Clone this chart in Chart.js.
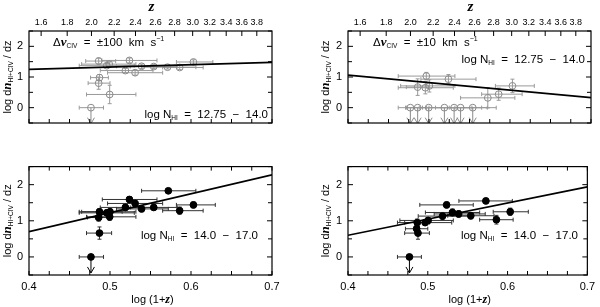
<!DOCTYPE html>
<html>
<head>
<meta charset="utf-8">
<script src="https://cdn.jsdelivr.net/npm/chart.js@4.4.1/dist/chart.umd.min.js"></script>
<style>
  body { margin: 0; background: #fff; width: 600px; height: 307px; overflow: hidden; position: relative; }
  canvas { position: absolute; }
</style>
</head>
<body>
<canvas id="tl" width="300" height="157" style="left:0;top:0"></canvas>
<canvas id="tr" width="300" height="157" style="left:300px;top:0"></canvas>
<canvas id="bl" width="300" height="153" style="left:0;top:154px"></canvas>
<canvas id="br" width="300" height="153" style="left:300px;top:154px"></canvas>
<script>
// axis ticks
const zTickLabels = [1.6, 1.8, 2.0, 2.2, 2.4, 2.6, 2.8, 3.0, 3.2, 3.4, 3.6, 3.8];
const xTickVals = [0.4, 0.5, 0.6, 0.7];
const xMinorVals = [0.4, 0.425, 0.45, 0.475, 0.5, 0.525, 0.55, 0.575, 0.6, 0.625, 0.65, 0.675, 0.7];
const yTickVals = [0, 1, 2];
const yMinorVals = [-0.5, 0, 0.5, 1, 1.5, 2, 2.5];

// top left: dv = +-100 km/s, log NHI 12.75-14.0
const tlX   = [0.486, 0.524, 0.603, 0.496, 0.499, 0.539, 0.554, 0.571, 0.586, 0.519, 0.531, 0.487, 0.486, 0.4996];
const tlY   = [1.52, 1.54, 1.49, 1.37, 1.42, 1.35, 1.34, 1.32, 1.31, 1.21, 1.14, 0.98, 0.80, 0.43];
const tlLo  = [0.470, 0.490, 0.582, 0.462, 0.465, 0.508, 0.525, 0.539, 0.565, 0.488, 0.497, 0.476, 0.473, 0.471];
const tlHi  = [0.507, 0.558, 0.627, 0.530, 0.532, 0.572, 0.583, 0.606, 0.615, 0.553, 0.565, 0.498, 0.500, 0.532];
const tlErr = [0.10, 0.08, 0.07, 0.07, 0.07, 0.07, 0.06, 0.06, 0.07, 0.07, 0.08, 0.10, 0.20, 0.30];
const tlLimX = [0.4765], tlLimLo = [0.462], tlLimHi = [0.492];
const tlFit = [1.25, 1.48];

// bottom left: log NHI 14.0-17.0
const blX   = [0.572, 0.524, 0.531, 0.519, 0.539, 0.554, 0.603, 0.586, 0.487, 0.496, 0.500, 0.4996, 0.486, 0.487];
const blY   = [1.83, 1.59, 1.48, 1.37, 1.33, 1.37, 1.44, 1.28, 1.25, 1.22, 1.25, 1.11, 1.09, 0.66];
const blLo  = [0.539, 0.4905, 0.497, 0.488, 0.508, 0.525, 0.582, 0.565, 0.462, 0.462, 0.465, 0.471, 0.472, 0.471];
const blHi  = [0.606, 0.558, 0.565, 0.553, 0.572, 0.583, 0.630, 0.615, 0.515, 0.530, 0.532, 0.532, 0.500, 0.502];
const blErr = [0.06, 0.08, 0.08, 0.08, 0.08, 0.07, 0.08, 0.10, 0.08, 0.08, 0.08, 0.10, 0.10, 0.17];
const blLimX = [0.4765], blLimLo = [0.462], blLimHi = [0.492];
const blFit = [0.70, 2.27];

// top right: dv = +-10 km/s, log NHI 12.75-14.0
const trX   = [0.4967, 0.524, 0.486, 0.4955, 0.5004, 0.603, 0.586, 0.5726];
const trY   = [1.03, 0.93, 0.67, 0.65, 0.71, 0.71, 0.44, 0.32];
const trLo  = [0.462, 0.490, 0.472, 0.462, 0.465, 0.582, 0.565, 0.539];
const trHi  = [0.532, 0.558, 0.500, 0.530, 0.532, 0.630, 0.615, 0.606];
const trErr = [0.12, 0.15, 0.27, 0.20, 0.20, 0.22, 0.20, 0.33];
const trLimX  = [0.477, 0.486, 0.4996, 0.519, 0.531, 0.539, 0.554];
const trLimLo = [0.462, 0.472, 0.471, 0.488, 0.497, 0.508, 0.525];
const trLimHi = [0.492, 0.500, 0.532, 0.553, 0.565, 0.572, 0.583];
const trFit = [1.06, 0.33];

// bottom right: log NHI 14.0-17.0
const brX   = [0.5728, 0.5236, 0.6033, 0.5309, 0.5387, 0.5539, 0.5185, 0.586, 0.5004, 0.4967, 0.4868, 0.486, 0.4877];
const brY   = [1.55, 1.44, 1.25, 1.23, 1.19, 1.14, 1.13, 1.03, 1.01, 0.95, 0.95, 0.78, 0.66];
const brLo  = [0.539, 0.490, 0.582, 0.497, 0.508, 0.525, 0.488, 0.565, 0.465, 0.462, 0.471, 0.472, 0.471];
const brHi  = [0.606, 0.557, 0.626, 0.565, 0.572, 0.583, 0.553, 0.607, 0.532, 0.530, 0.502, 0.500, 0.502];
const brErr = [0.07, 0.08, 0.10, 0.10, 0.09, 0.09, 0.10, 0.12, 0.08, 0.08, 0.10, 0.10, 0.17];
const brLimX = [0.477], brLimLo = [0.462], brLimHi = [0.492];
const brFit = [0.60, 1.94];

const SANS = '"Liberation Sans", Arial, sans-serif';
const SERIF = '"Liberation Serif", "Times New Roman", serif';

function rich(ctx, x, y, parts, align, rot) {
  ctx.save();
  ctx.translate(x, y);
  if (rot) ctx.rotate(rot);
  let w = 0;
  parts.forEach(p => { ctx.font = p[1]; w += ctx.measureText(p[0]).width; });
  let cx = align === 'center' ? -w / 2 : align === 'right' ? -w : 0;
  ctx.textBaseline = 'middle';
  ctx.fillStyle = '#000';
  parts.forEach(p => {
    ctx.font = p[1];
    ctx.fillText(p[0], cx, p[2] || 0);
    cx += ctx.measureText(p[0]).width;
  });
  ctx.restore();
}

function seg(ctx, x1, y1, x2, y2) {
  ctx.beginPath(); ctx.moveTo(x1, y1); ctx.lineTo(x2, y2); ctx.stroke();
}

const panelPlugin = {
  id: 'panel',
  beforeDatasetsDraw(chart, args, o) {
    const ctx = chart.ctx, xs = chart.scales.x, ys = chart.scales.y;
    ctx.save();
    ctx.beginPath();
    const a = chart.chartArea;
    ctx.rect(a.left, a.top, a.right - a.left, a.bottom - a.top);
    ctx.clip();
    ctx.strokeStyle = o.barColor;
    ctx.lineWidth = 1;
    o.pts.forEach(p => {
      const px = xs.getPixelForValue(p.x), py = ys.getPixelForValue(p.y);
      const l = xs.getPixelForValue(p.lo), r = xs.getPixelForValue(p.hi);
      seg(ctx, l, py, r, py);
      seg(ctx, l, py - 2, l, py + 2);
      seg(ctx, r, py - 2, r, py + 2);
      if (p.e) {
        const t = ys.getPixelForValue(p.y + p.e), b = ys.getPixelForValue(p.y - p.e);
        seg(ctx, px, t, px, b);
        seg(ctx, px - 2, t, px + 2, t);
        seg(ctx, px - 2, b, px + 2, b);
      }
      if (p.lim) {
        ctx.strokeStyle = o.arrowColor;
        seg(ctx, px, py, px, py + 16);
        ctx.beginPath();
        ctx.moveTo(px - 3.5, py + 10); ctx.lineTo(px, py + 16); ctx.lineTo(px + 3.5, py + 10);
        ctx.stroke();
        ctx.strokeStyle = o.barColor;
      }
    });
    ctx.restore();
  },
  afterDraw(chart, args, o) {
    const ctx = chart.ctx, a = chart.chartArea, xs = chart.scales.x, ys = chart.scales.y;
    ctx.save();
    ctx.strokeStyle = '#000';
    ctx.lineWidth = 1.2;
    ctx.strokeRect(a.left, a.top, a.right - a.left, a.bottom - a.top);
    ctx.lineWidth = 1;
    yMinorVals.forEach(v => {
      const py = ys.getPixelForValue(v), len = Number.isInteger(v) ? 5 : 4;
      seg(ctx, a.left, py, a.left + len, py);
      seg(ctx, a.right, py, a.right - len, py);
    });
    xMinorVals.forEach(v => {
      const px = xs.getPixelForValue(v);
      seg(ctx, px, a.bottom, px, a.bottom - 4);
      if (!o.top) seg(ctx, px, a.top, px, a.top + 4);
    });
    if (o.top) {
      zTickLabels.forEach(z => {
        const px = xs.getPixelForValue(Math.log10(1 + z));
        seg(ctx, px, a.top, px, a.top + 5);
      });
      rich(ctx, (a.left + a.right) / 2 + 1, 7, [['z', 'bold italic 15px ' + SERIF]], 'center');
    } else {
      rich(ctx, (a.left + a.right) / 2 + 2, a.bottom + 25,
        [['log (1+', '11px ' + SANS], ['z', 'bold italic 12px ' + SERIF], [')', '11px ' + SANS]], 'center');
    }
    // y title
    rich(ctx, o.yTitleX, (a.top + a.bottom) / 2,
      [['log d', '11px ' + SANS], ['n', 'bold italic 13px ' + SERIF], ['HI+CIV', '6.5px ' + SANS, 3],
       [' / dz', '11px ' + SANS]], 'center', -Math.PI / 2);
    (o.texts || []).forEach(t => rich(ctx, t.x, t.y, t.parts, t.align));
    ctx.restore();
  }
};

function nhiText(range) {
  return [['log N', '11.5px ' + SANS], ['HI', '6.5px ' + SANS, 3], ['  =  ' + range, '11.5px ' + SANS]];
}
function dvText(v) {
  return [['\u0394', '11.5px ' + SANS], ['v', 'bold italic 13px ' + SERIF], ['CIV', '6.5px ' + SANS, 3],
          ['  =  \u00b1' + v + '  km  s', '11.5px ' + SANS], ['\u22121', '7px ' + SANS, -4]];
}

function buildPts(X, Y, Lo, Hi, Err, LimX, LimLo, LimHi) {
  const pts = X.map((x, i) => ({ x, y: Y[i], lo: Lo[i], hi: Hi[i], e: Err[i] }));
  LimX.forEach((x, i) => pts.push({ x, y: 0, lo: LimLo[i], hi: LimHi[i], e: 0, lim: true }));
  return pts;
}

function makePanel(id, cfg) {
  const pts = buildPts(cfg.X, cfg.Y, cfg.Lo, cfg.Hi, cfg.Err, cfg.LimX, cfg.LimLo, cfg.LimHi);
  const scales = {
    x: {
      type: 'linear', min: 0.4, max: 0.7, position: 'bottom', display: !cfg.top,
      afterFit: s => { s.height = 32; },
      afterBuildTicks: s => { s.ticks = xTickVals.map(v => ({ value: v })); },
      ticks: { callback: v => v.toFixed(1), font: { family: SANS, size: 11 }, color: '#000', padding: 5, maxRotation: 0, autoSkip: false },
      grid: { display: false, drawTicks: false }, border: { display: false }
    },
    y: {
      type: 'linear', min: -0.5, max: 2.5,
      afterFit: s => { s.width = cfg.yW; },
      afterBuildTicks: s => { s.ticks = yTickVals.map(v => ({ value: v })); },
      ticks: { callback: v => String(v), font: { family: SANS, size: 11 }, color: '#000', padding: 6 },
      grid: { display: false, drawTicks: false }, border: { display: false }
    }
  };
  if (cfg.top) {
    scales.xt = {
      type: 'linear', min: 0.4, max: 0.7, position: 'top',
      afterFit: s => { s.height = 31; },
      afterBuildTicks: s => { s.ticks = zTickLabels.map(z => ({ value: Math.log10(1 + z) })); },
      ticks: { callback: (v, i) => zTickLabels[i].toFixed(1), font: { family: SANS, size: 9 }, color: '#000', padding: 3, maxRotation: 0, autoSkip: false },
      grid: { display: false, drawTicks: false }, border: { display: false }
    };
  }
  const open = cfg.open;
  return new Chart(document.getElementById(id), {
    data: {
      datasets: [
        {
          type: 'line', data: [{ x: 0.4, y: cfg.Fit[0] }, { x: 0.7, y: cfg.Fit[1] }],
          borderColor: '#000', borderWidth: 1.7, pointRadius: 0, order: 0
        },
        {
          type: 'scatter', data: pts.map(p => ({ x: p.x, y: p.y })),
          pointRadius: 3.4, pointBorderWidth: 1,
          pointBackgroundColor: open ? 'rgba(255,255,255,0)' : '#000',
          pointBorderColor: open ? '#8a8a8a' : '#000', order: 1
        }
      ]
    },
    options: {
      responsive: false, animation: false, events: [],
      layout: { padding: cfg.pad },
      scales,
      plugins: {
        legend: { display: false }, tooltip: { enabled: false },
        panel: {
          pts, top: cfg.top, yTitleX: cfg.yTitleX, texts: cfg.texts,
          barColor: open ? '#9a9a9a' : '#333', arrowColor: open ? '#8a8a8a' : '#000'
        }
      }
    },
    plugins: [panelPlugin]
  });
}

makePanel('tl', {
  X: tlX, Y: tlY, Lo: tlLo, Hi: tlHi, Err: tlErr, LimX: tlLimX, LimLo: tlLimLo, LimHi: tlLimHi, Fit: tlFit,
  top: true, open: true, yW: 29, yTitleX: 8, pad: { left: 0, right: 28, top: 0, bottom: 2 },
  texts: [{ x: 53, y: 43, parts: dvText(100), align: 'left' }, { x: 268, y: 115, parts: nhiText('12.75  \u2212  14.0'), align: 'right' }]
});
makePanel('tr', {
  X: trX, Y: trY, Lo: trLo, Hi: trHi, Err: trErr, LimX: trLimX, LimLo: trLimLo, LimHi: trLimHi, Fit: trFit,
  top: true, open: true, yW: 48, yTitleX: 26, pad: { left: 0, right: 9, top: 0, bottom: 2 },
  texts: [{ x: 73, y: 43, parts: dvText(10), align: 'left' }, { x: 285, y: 60, parts: nhiText('12.75  \u2212  14.0'), align: 'right' }]
});
makePanel('bl', {
  X: blX, Y: blY, Lo: blLo, Hi: blHi, Err: blErr, LimX: blLimX, LimLo: blLimLo, LimHi: blLimHi, Fit: blFit,
  top: false, open: false, yW: 29, yTitleX: 8, pad: { left: 0, right: 28, top: 1, bottom: 0 },
  texts: [{ x: 258, y: 82, parts: nhiText('14.0  \u2212  17.0'), align: 'right' }]
});
makePanel('br', {
  X: brX, Y: brY, Lo: brLo, Hi: brHi, Err: brErr, LimX: brLimX, LimLo: brLimLo, LimHi: brLimHi, Fit: brFit,
  top: false, open: false, yW: 48, yTitleX: 26, pad: { left: 0, right: 9, top: 1, bottom: 0 },
  texts: [{ x: 278, y: 82, parts: nhiText('14.0  \u2212  17.0'), align: 'right' }]
});
</script>
</body>
</html>
